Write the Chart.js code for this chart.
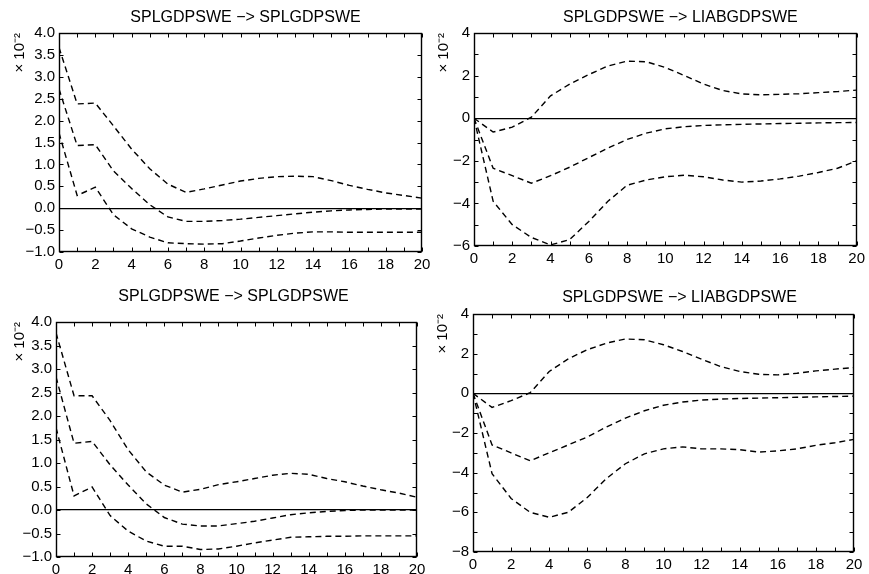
<!DOCTYPE html>
<html>
<head>
<meta charset="utf-8">
<script src="https://cdn.jsdelivr.net/npm/chart.js@4.4.1/dist/chart.umd.min.js"></script>
<style>
  html, body { margin: 0; padding: 0; background: #fff; overflow: hidden; }
  #wrap { position: relative; width: 869px; height: 574px; }
  canvas { position: absolute; }
</style>
</head>
<body>
<div id="wrap">
  <canvas id="c1"></canvas>
  <canvas id="c2"></canvas>
  <canvas id="c3"></canvas>
  <canvas id="c4"></canvas>
</div>
<script>
'use strict';

// impulse response horizon
const horizon = [0, 1, 2, 3, 4, 5, 6, 7, 8, 9, 10, 11, 12, 13, 14, 15, 16, 17, 18, 19, 20];

const titleSelf = 'SPLGDPSWE \u2212> SPLGDPSWE';
const titleCross = 'SPLGDPSWE \u2212> LIABGDPSWE';
const scaleLabel = '\u00d7 10\u207b\u00b2';

// SPLGDPSWE -> SPLGDPSWE (top): upper band, response, lower band
const p1Upper = [3.67, 2.38, 2.40, 1.88, 1.35, 0.90, 0.55, 0.36, 0.44, 0.53, 0.62, 0.68, 0.72, 0.73, 0.72, 0.63, 0.52, 0.43, 0.35, 0.29, 0.23];
const p1Mid   = [2.72, 1.43, 1.45, 0.85, 0.45, 0.08, -0.20, -0.30, -0.30, -0.28, -0.25, -0.21, -0.17, -0.13, -0.09, -0.06, -0.04, -0.03, -0.02, -0.02, -0.02];
const p1Low   = [1.72, 0.29, 0.48, -0.15, -0.47, -0.66, -0.79, -0.81, -0.82, -0.81, -0.75, -0.68, -0.62, -0.57, -0.54, -0.54, -0.55, -0.55, -0.55, -0.55, -0.55];

// SPLGDPSWE -> LIABGDPSWE (top)
const p2Upper = [0, -0.65, -0.42, 0.05, 1.05, 1.60, 2.05, 2.45, 2.68, 2.65, 2.38, 2.00, 1.60, 1.30, 1.14, 1.10, 1.12, 1.15, 1.20, 1.25, 1.32];
const p2Mid   = [0, -2.35, -2.70, -3.05, -2.70, -2.30, -1.85, -1.40, -1.00, -0.70, -0.50, -0.40, -0.34, -0.31, -0.29, -0.27, -0.25, -0.24, -0.22, -0.21, -0.20];
const p2Low   = [0, -3.90, -5.00, -5.60, -5.95, -5.70, -4.85, -3.90, -3.15, -2.90, -2.75, -2.68, -2.75, -2.90, -3.00, -2.95, -2.85, -2.72, -2.55, -2.35, -2.00];

// SPLGDPSWE -> SPLGDPSWE (bottom)
const p3Upper = [3.77, 2.43, 2.43, 1.90, 1.28, 0.81, 0.53, 0.38, 0.44, 0.54, 0.60, 0.67, 0.74, 0.78, 0.76, 0.67, 0.60, 0.51, 0.43, 0.36, 0.27];
const p3Mid   = [2.83, 1.42, 1.46, 0.96, 0.53, 0.13, -0.16, -0.30, -0.34, -0.34, -0.29, -0.24, -0.17, -0.10, -0.06, -0.03, -0.01, 0.00, 0.00, 0.00, 0.00];
const p3Low   = [1.75, 0.30, 0.49, -0.12, -0.45, -0.66, -0.77, -0.77, -0.84, -0.83, -0.77, -0.70, -0.64, -0.58, -0.57, -0.56, -0.56, -0.55, -0.55, -0.55, -0.55];

// SPLGDPSWE -> LIABGDPSWE (bottom)
const p4Upper = [0, -0.71, -0.37, 0.03, 1.10, 1.74, 2.20, 2.53, 2.74, 2.70, 2.45, 2.11, 1.72, 1.35, 1.10, 0.96, 0.93, 1.01, 1.13, 1.22, 1.30];
const p4Mid   = [0, -2.60, -3.00, -3.40, -3.00, -2.60, -2.20, -1.70, -1.25, -0.88, -0.60, -0.44, -0.34, -0.29, -0.26, -0.24, -0.22, -0.20, -0.18, -0.16, -0.14];
const p4Low   = [0, -4.05, -5.30, -6.00, -6.25, -6.00, -5.25, -4.30, -3.55, -3.05, -2.80, -2.70, -2.80, -2.80, -2.84, -2.96, -2.90, -2.80, -2.62, -2.49, -2.32];

// y axis ranges: [min, max, step, decimals, label every n steps]
const p1Range = [-1, 4, 0.5, 1, 1];
const p2Range = [-6, 4, 1, 0, 2];
const p3Range = [-1, 4, 0.5, 1, 1];
const p4Range = [-8, 4, 1, 0, 2];

// canvas placement, plot box (left, top, right, bottom inside the canvas), title nudge
const panels = [
  { id: 'c1', left: 0,   top: 0,   w: 435, h: 280, area: [59, 33, 422, 252], titlePad: [8.4, 5.4],  titleShift: 5,  yTitlePad: 12, title: titleSelf,  range: p1Range, series: [p1Upper, p1Mid, p1Low] },
  { id: 'c2', left: 435, top: 0,   w: 434, h: 280, area: [39, 33, 422, 246], titlePad: [8.4, 5.4],  titleShift: 15, yTitlePad: 1,  title: titleCross, range: p2Range, series: [p2Upper, p2Mid, p2Low] },
  { id: 'c3', left: 0,   top: 280, w: 435, h: 294, area: [56, 42, 417, 277], titlePad: [7.4, 15.4], titleShift: -3, yTitlePad: 12, title: titleSelf,  range: p3Range, series: [p3Upper, p3Mid, p3Low] },
  { id: 'c4', left: 435, top: 280, w: 434, h: 294, area: [38, 34, 419, 272], titlePad: [8.4, 6.4],  titleShift: 16, yTitlePad: 0,  title: titleCross, range: p4Range, series: [p4Upper, p4Mid, p4Low] }
];

Chart.defaults.font.family = '"Liberation Sans", Arial, Helvetica, sans-serif';
Chart.defaults.color = '#000';

const fmt = (v, dec) => (v < 0 ? '\u2212' : '') + Math.abs(v).toFixed(dec);

// closed frame with short inward ticks on every side
const boxTicks = {
  id: 'boxTicks',
  afterLayout(chart, args, opts) {
    // move the title block sideways a little
    const tb = chart.titleBlock;
    if (tb && opts.shift) {
      tb.left += opts.shift;
      tb.right += opts.shift;
    }
  },
  afterDatasetsDraw(chart) {
    const { ctx, chartArea: a, scales: { x, y } } = chart;
    const L = Math.round(a.left) + 0.5, R = Math.round(a.right) - 0.5;
    const T = Math.round(a.top) + 0.5, B = Math.round(a.bottom) - 0.5;
    const len = 4;
    ctx.save();
    ctx.strokeStyle = '#000';
    ctx.lineWidth = 1;
    ctx.beginPath();
    x.ticks.forEach(t => {
      const px = Math.round(x.getPixelForValue(t.value)) + 0.5;
      ctx.moveTo(px, B); ctx.lineTo(px, B - len);
      ctx.moveTo(px, T); ctx.lineTo(px, T + len);
    });
    y.ticks.forEach(t => {
      const py = Math.round(y.getPixelForValue(t.value)) + 0.5;
      ctx.moveTo(L, py); ctx.lineTo(L + len, py);
      ctx.moveTo(R, py); ctx.lineTo(R - len, py);
    });
    ctx.stroke();
    ctx.lineWidth = 1.4;
    ctx.strokeRect(L, T, R - L, B - T);
    ctx.restore();
  }
};

panels.forEach(p => {
  const el = document.getElementById(p.id);
  el.width = p.w;
  el.height = p.h;
  el.style.left = p.left + 'px';
  el.style.top = p.top + 'px';

  const [ymin, ymax, ystep, ydec, yevery] = p.range;

  new Chart(el, {
    type: 'line',
    data: {
      datasets: p.series.map(s => ({
        data: s.map((v, i) => ({ x: horizon[i], y: v })),
        borderColor: '#000',
        borderWidth: 1.4,
        borderDash: [6, 4],
        pointRadius: 0,
        tension: 0,
        fill: false
      }))
    },
    options: {
      responsive: false,
      animation: false,
      devicePixelRatio: 1,
      layout: { padding: { left: 0, top: 0, bottom: 0, right: p.w - p.area[2] } },
      plugins: {
        legend: { display: false },
        tooltip: { enabled: false },
        boxTicks: { shift: p.titleShift },
        title: {
          display: true,
          text: p.title,
          fullSize: false,
          color: '#000',
          font: { size: 16, weight: 'normal', lineHeight: 1.2 },
          padding: { top: p.titlePad[0], bottom: p.titlePad[1] }
        }
      },
      scales: {
        x: {
          type: 'linear',
          min: 0,
          max: 20,
          afterFit: s => { s.height = p.h - p.area[3]; },
          grid: { display: false, drawTicks: false },
          border: { display: false },
          ticks: {
            stepSize: 1,
            autoSkip: false,
            maxRotation: 0,
            padding: 4,
            color: '#000',
            font: { size: 15 },
            callback: v => (v % 2 === 0 ? String(v) : '')
          }
        },
        y: {
          min: ymin,
          max: ymax,
          afterFit: s => { s.width = p.area[0]; },
          grid: {
            drawTicks: false,
            lineWidth: 1.3,
            color: c => (c.tick && c.tick.value === 0 ? '#000' : 'rgba(0,0,0,0)')
          },
          border: { display: false },
          ticks: {
            stepSize: ystep,
            autoSkip: false,
            padding: 4,
            color: '#000',
            font: { size: 15 },
            callback: v => (Math.round(v / ystep) % yevery === 0 ? fmt(v, ydec) : '')
          },
          title: {
            display: true,
            text: scaleLabel,
            align: 'end',
            color: '#000',
            font: { size: 15, lineHeight: 1 },
            padding: { top: p.yTitlePad, bottom: 0 }
          }
        }
      }
    },
    plugins: [boxTicks]
  });
});
</script>
</body>
</html>
